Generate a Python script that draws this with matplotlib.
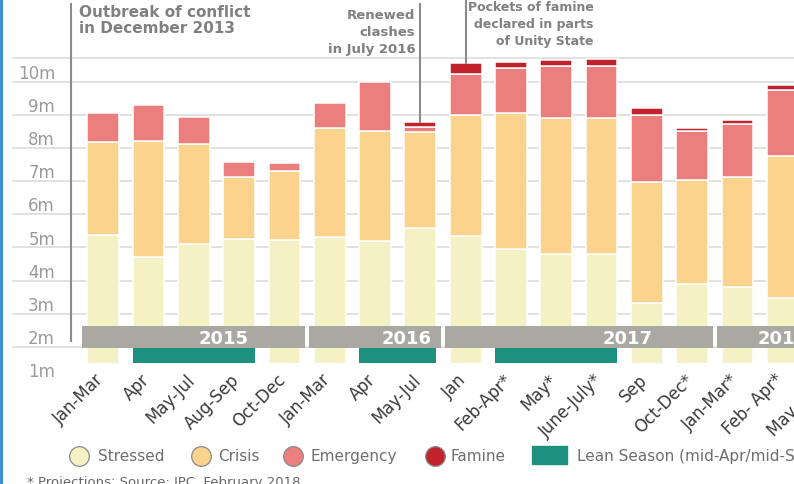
import numpy as np
import matplotlib
matplotlib.use("Agg")
import matplotlib.pyplot as plt
import matplotlib.transforms as mtransforms

# ---------------- data ----------------
periods = ["Jan-Mar", "Apr", "May-Jul", "Aug-Sep", "Oct-Dec",
           "Jan-Mar", "Apr", "May-Jul",
           "Jan", "Feb-Apr*", "May*", "June-July*", "Sep", "Oct-Dec*",
           "Jan-Mar*", "Feb- Apr*", "May - Jul*"]
stressed = [5.10, 4.43, 4.83, 4.98, 4.96, 5.05, 4.93, 5.32, 5.08, 4.68, 4.53, 4.53, 3.04, 3.63, 3.53, 3.19, np.nan]
crisis = [2.83, 3.52, 3.03, 1.89, 2.07, 3.28, 3.33, 2.90, 3.64, 4.10, 4.11, 4.11, 3.66, 3.14, 3.33, 4.31, np.nan]
emergency = [0.86, 1.08, 0.81, 0.44, 0.25, 0.76, 1.47, 0.15, 1.24, 1.37, 1.58, 1.58, 2.04, 1.47, 1.59, 2.00, np.nan]
famine = [0, 0, 0, 0, 0, 0, 0, 0.15, 0.34, 0.18, 0.17, 0.20, 0.20, 0.10, 0.13, 0.14, np.nan]
years = ["2015", "2016", "2017", "2018"]
year_spans = [(0, 4), (5, 7), (8, 13), (14, 16)]      # first / last period index of each year
lean_spans = [(1, 3), (6, 7), (9, 11)]                # lean season periods
y_ticks = list(range(1, 11))

# ---------------- style ----------------
C_STRESS = "#f4f1c4"
C_CRISIS = "#fbd38d"
C_EMERG = "#eb7f7e"
C_FAMINE = "#c1222b"
C_LEAN = "#1e9080"
C_BAND = "#a9a9a1"
C_GRID = "#dedede"
C_ANN = "#808080"

W, H = 794, 485
fig = plt.figure(figsize=(W / 100, H / 100), dpi=100)
fig.patch.set_facecolor("white")

ax = fig.add_axes([12 / W, 121 / H, 782 / W, 364 / H])
ax.set_facecolor("none")
ax.set_xlim(-2.01, 15.245)
ax.set_ylim(1.239, 12.236)
for s in ax.spines.values():
    s.set_visible(False)
ax.set_xticks([])
ax.set_yticks([])

# grid lines (sit slightly below each label)
for k in y_ticks[1:]:
    ax.axhline(k - 0.27, color=C_GRID, lw=1.3, zorder=0)
ax.axhline(10.45, color=C_GRID, lw=1.3, zorder=0)

# y labels
ytrans = mtransforms.blended_transform_factory(ax.transAxes, ax.transData)
for k in y_ticks:
    ax.text(43 / 782, k, f"{k}m", transform=ytrans, ha="right", va="center",
            fontsize=12, color="#9a9a9a", clip_on=False)

# stacked bars
x = np.arange(len(periods))
st = np.array(stressed, float)
cr = np.array(crisis, float)
em = np.array(emergency, float)
fa = np.array(famine, float)
bw = 0.70
kw = dict(width=bw, edgecolor="white", linewidth=1.1, zorder=2)
ax.bar(x, st, bottom=0, color=C_STRESS, **kw)
ax.bar(x, cr, bottom=st, color=C_CRISIS, **kw)
ax.bar(x, em, bottom=st + cr, color=C_EMERG, **kw)
fmask = np.where(fa > 0, fa, np.nan)
ax.bar(x, fmask, bottom=st + cr + em, color=C_FAMINE, **kw)
totals = st + cr + em + fa

# year band
band_lo, band_hi = 1.69, 2.36
year_label_off = [0.65, 0.70, 1.08, 0.0]
for (a, b), yr, off in zip(year_spans, years, year_label_off):
    ax.bar((a + b) / 2, band_hi - band_lo, width=(b - a + 1) - 0.07, bottom=band_lo,
           color=C_BAND, linewidth=0, zorder=3)
    ax.text((a + b) / 2 + off, (band_lo + band_hi) / 2 - 0.02, yr, ha="center", va="center",
            color="white", fontsize=13, fontweight="bold", zorder=4)

# lean season
for a, b in lean_spans:
    ax.bar((a + b) / 2, band_lo - 1.0, width=(b - a) + bw, bottom=1.0,
           color=C_LEAN, linewidth=0, zorder=3)

# x labels
xtrans = ax.transData + mtransforms.ScaledTranslation(-2 / 100, 0, fig.dpi_scale_trans)
for i, lab in enumerate(periods):
    ax.text(i, 0.84, lab, transform=xtrans, rotation=45, ha="right", va="center",
            rotation_mode="anchor", fontsize=12, color="#3a3a3a", clip_on=False)

# annotations
ax.plot([-0.71, -0.71], [12.08, 1.90], color="#8c8c8c", lw=1.5, zorder=5, clip_on=False)
ax.text(-0.53, 12.07, "Outbreak of conflict\nin December 2013", ha="left", va="top",
        fontsize=11, fontweight="bold", color=C_ANN, linespacing=1.08)

ax.plot([7, 7], [12.08, totals[7]], color="#8c8c8c", lw=1.5, zorder=5)
ax.text(6.89, 11.97, "Renewed\nclashes\nin July 2016", ha="right", va="top",
        fontsize=9.5, fontweight="bold", color=C_ANN, linespacing=1.4)

ax.plot([8, 8], [12.3, totals[8]], color="#8c8c8c", lw=1.5, zorder=5, clip_on=False)
ax.text(10.82, 12.2, "Pockets of famine\ndeclared in parts\nof Unity State", ha="right", va="top",
        fontsize=9, fontweight="bold", color=C_ANN, linespacing=1.4)

# overlay (pixel coordinates) for legend, footnote, frame
ov = fig.add_axes([0, 0, 1, 1], zorder=10)
ov.set_xlim(0, W)
ov.set_ylim(H, 0)
ov.axis("off")
ov.patch.set_alpha(0)

leg_y = 457
items = [(79, 98, C_STRESS, "Stressed"), (201, 218, C_CRISIS, "Crisis"),
         (293, 310, C_EMERG, "Emergency"), (435, 451, C_FAMINE, "Famine")]
for cx, tx, col, lab in items:
    ov.scatter([cx], [leg_y], s=200, color=col, edgecolor="#8a8a8a", linewidth=0.9)
    ov.text(tx, leg_y, lab, ha="left", va="center", fontsize=11, color="#6e6e6e")
ov.add_patch(plt.Rectangle((532, 447), 35, 18, color=C_LEAN))
ov.text(577, leg_y, "Lean Season (mid-Apr/mid-Sep)", ha="left", va="center",
        fontsize=11, color="#6e6e6e")

ov.text(27, 476, "* Projections; Source: IPC, February 2018", ha="left", va="top",
        fontsize=9.5, color="#666666")

ov.plot([1, 1], [0, H], color="#2a8ad2", lw=2)

fig.savefig("out.png", dpi=100)
